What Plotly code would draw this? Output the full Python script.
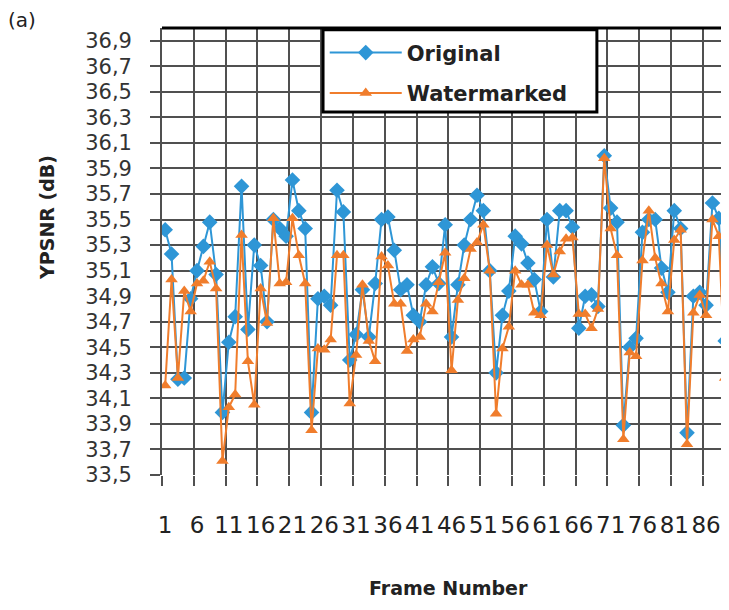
import plotly.graph_objects as go

frames = list(range(1, 90))
tick_labels = [1, 6, 11, 16, 21, 26, 31, 36, 41, 46, 51, 56, 61, 66, 71, 76, 81, 86]

original = [35.42, 35.23, 34.25, 34.26, 34.88, 35.10, 35.29, 35.48, 35.07, 33.99,
            34.54, 34.74, 35.76, 34.64, 35.30, 35.14, 34.70, 35.50, 35.43, 35.37,
            35.81, 35.57, 35.43, 33.99, 34.88, 34.90, 34.83, 35.73, 35.56, 34.40,
            34.60, 34.95, 34.58, 35.00, 35.50, 35.52, 35.26, 34.95, 34.99, 34.75,
            34.70, 34.99, 35.13, 35.00, 35.46, 34.58, 34.99, 35.30, 35.50, 35.69,
            35.57, 35.10, 34.30, 34.75, 34.94, 35.37, 35.31, 35.16, 35.03, 34.78,
            35.50, 35.05, 35.57, 35.57, 35.44, 34.65, 34.90, 34.91, 34.82, 36.00,
            35.59, 35.48, 33.89, 34.50, 34.57, 35.40, 35.50, 35.50, 35.12, 34.93,
            35.57, 35.43, 33.83, 34.90, 34.93, 34.83, 35.63, 35.51, 34.55]

watermarked = [34.20, 35.03, 34.26, 34.94, 34.78, 35.00, 35.02, 35.17, 34.96, 33.61,
               34.03, 34.13, 35.38, 34.39, 34.05, 34.96, 34.69, 35.51, 35.00, 35.01,
               35.51, 35.22, 35.00, 33.85, 34.49, 34.48, 34.56, 35.22, 35.22, 34.06,
               34.44, 34.99, 34.55, 34.39, 35.21, 35.14, 34.84, 34.84, 34.47, 34.56,
               34.58, 34.84, 34.78, 35.01, 35.24, 34.32, 34.87, 35.04, 35.27, 35.32,
               35.46, 35.10, 33.98, 34.49, 34.66, 35.10, 34.99, 34.99, 34.77, 34.75,
               35.30, 35.07, 35.25, 35.35, 35.36, 34.76, 34.76, 34.65, 34.80, 35.98,
               35.43, 35.22, 33.78, 34.46, 34.43, 35.18, 35.57, 35.20, 35.00, 34.78,
               35.34, 35.42, 33.74, 34.77, 34.91, 34.75, 35.50, 35.37, 34.26]

BLUE = "#2E96D6"
ORANGE = "#F07D2C"
GRID = "#505050"

fig = go.Figure()
fig.add_trace(go.Scatter(
    x=frames, y=original, name="Original", mode="lines+markers",
    line=dict(color=BLUE, width=2),
    marker=dict(symbol="diamond", size=12, color=BLUE),
    legendgroup="o"))
fig.add_trace(go.Scatter(
    x=frames, y=watermarked, name="Watermarked", mode="lines+markers",
    line=dict(color=ORANGE, width=2),
    marker=dict(symbol="triangle-up", size=11, color=ORANGE),
    legendgroup="w"))

boundaries = [t - 0.5 for t in tick_labels]

fig.update_xaxes(
    range=[0.5, 89.6],
    tickmode="array", tickvals=tick_labels, ticktext=[str(t) for t in tick_labels],
    ticks="", showgrid=False, zeroline=False, showline=False,
    tickfont=dict(family="DejaVu Sans", size=23, color="#222222"),
    ticklabelstandoff=34,
    minor=dict(tickmode="array", tickvals=boundaries, showgrid=True,
               gridcolor=GRID, gridwidth=1.7, ticks="outside", ticklen=10,
               tickcolor=GRID, tickwidth=1.7),
)
fig.update_yaxes(
    range=[33.5, 37.0], tick0=33.5, dtick=0.2, tickformat=".1f",
    showgrid=True, gridcolor=GRID, gridwidth=1.7, zeroline=False,
    showline=True, linecolor=GRID, linewidth=1.7,
    ticks="outside", ticklen=10, tickcolor=GRID, tickwidth=1.7,
    tickfont=dict(family="DejaVu Sans", size=21, color="#333333"),
    ticklabelstandoff=14,
)

# top border of plot area
fig.add_shape(type="line", xref="paper", yref="paper", x0=0, x1=1, y0=1, y1=1,
              line=dict(color="black", width=3))
# legend frame
fig.add_shape(type="rect", xref="paper", yref="paper", x0=0.284, x1=0.767,
              y0=0.812, y1=0.996, fillcolor="white",
              line=dict(color="black", width=3), layer="above")

fig.update_layout(
    width=721, height=602,
    margin=dict(l=154, r=0, t=20, b=135, autoexpand=False),
    plot_bgcolor="white", paper_bgcolor="white",
    separators=", ",
    font=dict(family="DejaVu Sans", color="#222222"),
    showlegend=True,
    legend=dict(x=0.287, y=0.99, xanchor="left", yanchor="top",
                bgcolor="rgba(0,0,0,0)", borderwidth=0,
                font=dict(family="DejaVu Sans", size=21, weight="bold", color="#222222"),
                itemwidth=72, tracegroupgap=10),
    annotations=[
        dict(text="Frame Number", xref="paper", yref="paper", x=0.505, y=-0.253,
             showarrow=False, xanchor="center", yanchor="middle",
             font=dict(family="DejaVu Sans", size=19, weight="bold", color="#222222")),
        dict(text="YPSNR (dB)", xref="paper", yref="paper", x=-0.203, y=0.577,
             showarrow=False, xanchor="center", yanchor="middle", textangle=-90,
             font=dict(family="DejaVu Sans", size=19, weight="bold", color="#222222")),
        dict(text="(a)", xref="paper", yref="paper", x=-0.247, y=1.018,
             showarrow=False, xanchor="center", yanchor="middle",
             font=dict(family="DejaVu Sans", size=20, color="#222222")),
    ],
)

fig.write_html("out.html")
